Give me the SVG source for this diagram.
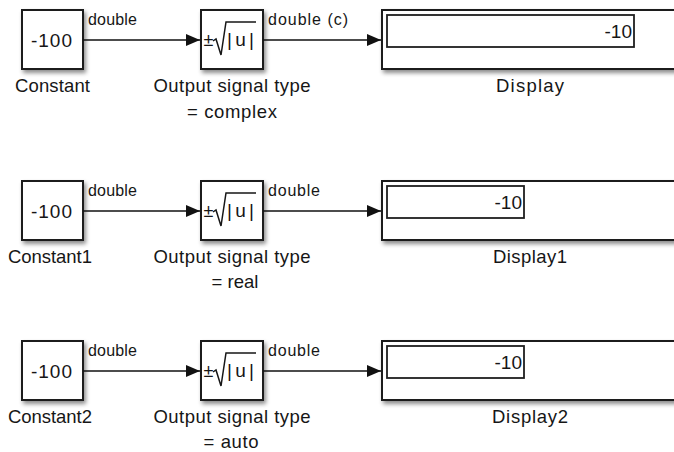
<svg xmlns="http://www.w3.org/2000/svg" width="674" height="452" viewBox="0 0 674 452">
<style>
.blk{fill:#fff;stroke:#1e1e1e;stroke-width:2;filter:url(#sh)}
.inner{fill:#fff;stroke:#1e1e1e;stroke-width:1.8}
.t{font-family:"Liberation Sans",Arial,sans-serif;fill:#161616}
.val{font-size:19px}
.lbl{font-size:18.5px;text-anchor:middle}
.sig{font-size:16px}
.wire{stroke:#111;stroke-width:1.4;fill:none;marker-end:url(#ah)}
.rad{stroke:#161616;stroke-width:1.5;fill:none}
</style>
<defs>
<filter id="sh" x="-20%" y="-20%" width="150%" height="150%">
<feDropShadow dx="2" dy="3" stdDeviation="2" flood-color="#000" flood-opacity="0.45"/>
</filter>
<marker id="ah" markerUnits="userSpaceOnUse" viewBox="0 0 14 12" refX="14" refY="6" markerWidth="14" markerHeight="12" orient="auto">
<path d="M0,0 L14,6 L0,12 z" fill="#111"/>
</marker>
</defs>
<rect width="674" height="452" fill="#fff"/>

<!-- Row 1 -->
<g id="constant">
<rect class="blk" x="22" y="10" width="61" height="59"/>
<text class="t val" x="31" y="47" textLength="41">-100</text>
<text class="t lbl" x="52.5" y="92" textLength="75">Constant</text>
</g>
<g id="sqrt">
<rect class="blk" x="201" y="10" width="62" height="59"/>
<text class="t" x="203.5" y="46" font-size="18">±</text>
<path class="rad" d="M213,41 L216,39 L221,55 L226,22 L256,22"/>
<text class="t" x="227" y="46" font-size="19" textLength="27">|u|</text>
<text class="t lbl" x="232" y="92" textLength="157">Output signal type</text>
<text class="t lbl" x="232" y="118" textLength="90">= complex</text>
</g>
<g id="display">
<rect class="blk" x="382" y="10" width="298" height="59"/>
<rect class="inner" x="387" y="15" width="247" height="32"/>
<text class="t val" x="632" y="38" text-anchor="end">-10</text>
<text class="t lbl" x="530" y="92" textLength="68">Display</text>
</g>

<!-- Row 2 -->
<g id="constant1" transform="translate(0,171)">
<rect class="blk" x="22" y="10" width="61" height="59"/>
<text class="t val" x="31" y="47" textLength="41">-100</text>
<text class="t lbl" x="50" y="92" textLength="84">Constant1</text>
</g>
<g id="sqrt1" transform="translate(0,171)">
<rect class="blk" x="201" y="10" width="62" height="59"/>
<text class="t" x="203.5" y="46" font-size="18">±</text>
<path class="rad" d="M213,41 L216,39 L221,55 L226,22 L256,22"/>
<text class="t" x="227" y="46" font-size="19" textLength="27">|u|</text>
<text class="t lbl" x="232" y="92" textLength="157">Output signal type</text>
<text class="t lbl" x="235" y="117">= real</text>
</g>
<g id="display1" transform="translate(0,171)">
<rect class="blk" x="382" y="10" width="298" height="59"/>
<rect class="inner" x="387" y="15" width="137" height="32"/>
<text class="t val" x="522" y="38" text-anchor="end">-10</text>
<text class="t lbl" x="530" y="92" textLength="74">Display1</text>
</g>

<!-- Row 3 -->
<g id="constant2" transform="translate(0,331)">
<rect class="blk" x="22" y="10" width="61" height="59"/>
<text class="t val" x="31" y="47" textLength="41">-100</text>
<text class="t lbl" x="50" y="92" textLength="84">Constant2</text>
</g>
<g id="sqrt2" transform="translate(0,331)">
<rect class="blk" x="201" y="10" width="62" height="59"/>
<text class="t" x="203.5" y="46" font-size="18">±</text>
<path class="rad" d="M213,41 L216,39 L221,55 L226,22 L256,22"/>
<text class="t" x="227" y="46" font-size="19" textLength="27">|u|</text>
<text class="t lbl" x="232" y="92" textLength="157">Output signal type</text>
<text class="t lbl" x="231" y="117" textLength="55">= auto</text>
</g>
<g id="display2" transform="translate(0,331)">
<rect class="blk" x="382" y="10" width="298" height="59"/>
<rect class="inner" x="387" y="15" width="137" height="32"/>
<text class="t val" x="522" y="38" text-anchor="end">-10</text>
<text class="t lbl" x="530" y="92" textLength="76">Display2</text>
</g>

<g id="connectors">
<path class="wire" d="M83,40 H200"/>
<path class="wire" d="M263,40 H381"/>
<path class="wire" d="M83,211 H200"/>
<path class="wire" d="M263,211 H381"/>
<path class="wire" d="M83,371 H200"/>
<path class="wire" d="M263,371 H381"/>
<text class="t sig" x="88" y="25" textLength="49">double</text>
<text class="t sig" x="268" y="25" textLength="80">double (c)</text>
<text class="t sig" x="88" y="196" textLength="49">double</text>
<text class="t sig" x="268" y="196" textLength="52">double</text>
<text class="t sig" x="88" y="356" textLength="49">double</text>
<text class="t sig" x="268" y="356" textLength="52">double</text>
</g>
</svg>
